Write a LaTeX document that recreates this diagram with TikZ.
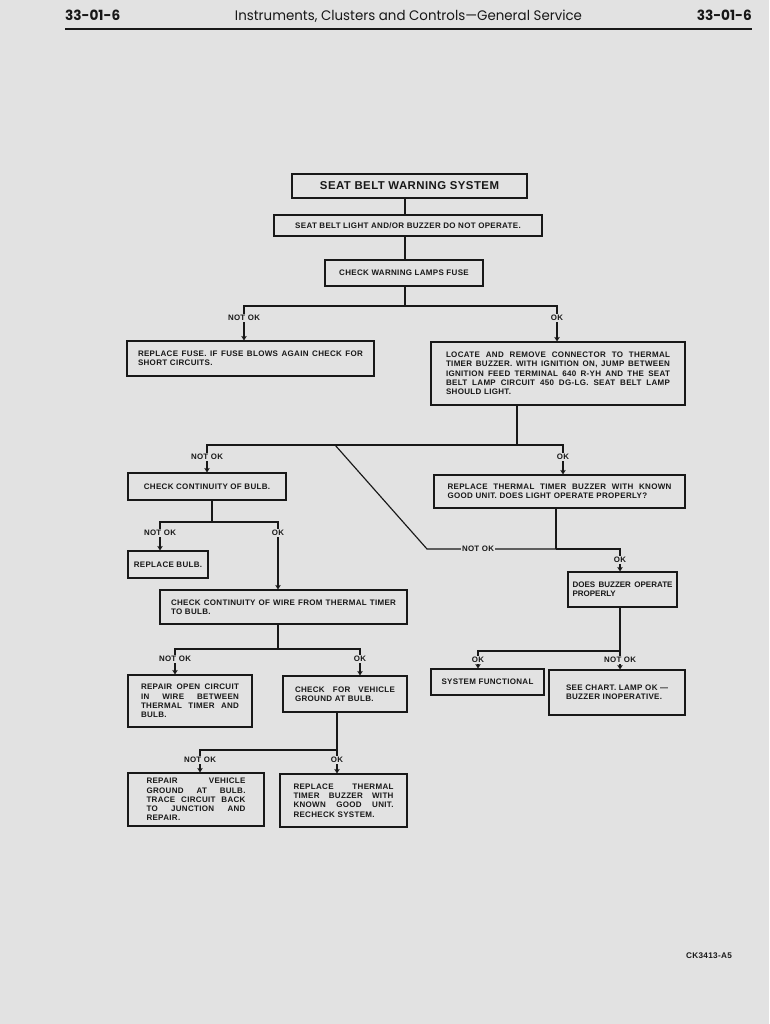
\documentclass[tikz,border=0pt]{standalone}
\usepackage{fontspec}
\setmainfont{Liberation Sans}
\newfontfamily\boxfont{Liberation Sans}[LetterSpace=4]
\newfontfamily\hdrfont{Poppins}
\usetikzlibrary{arrows.meta}
\definecolor{bg}{RGB}{226,226,226}
\definecolor{ink}{RGB}{24,24,24}
\newcommand{\jl}[1]{\makebox[\hsize][s]{\spaceskip=0.3em plus 1fil minus 0.1em\relax #1}}
\begin{document}
\begin{tikzpicture}[x=1pt,y=-1pt,
  box/.style={draw=ink, line width=1.15pt, rectangle, inner ysep=0pt, text=ink,
    font=\boxfont\bfseries\fontsize{8}{9.3}\selectfont, align=left},
  cbox/.style={box, align=center, inner xsep=0pt},
  conn/.style={draw=ink, line width=1.15pt},
  arr/.style={conn, -{Straight Barb[length=3.5pt,width=4.5pt,line width=0.9pt]}},
  lab/.style={fill=bg, inner sep=1pt, text=ink, font=\boxfont\bfseries\fontsize{7.9}{8}\selectfont}]
\fill[bg] (0,0) rectangle (769,1024);
\useasboundingbox (0,0) rectangle (769,1024);
% header
\node[anchor=west, inner sep=0, text=ink] (h1) at (65,15) {\resizebox{55pt}{10.5pt}{\hdrfont\bfseries 33-01-6}};
\node[anchor=east, inner sep=0, text=ink] (h3) at (752,15) {\resizebox{55pt}{10.5pt}{\hdrfont\bfseries 33-01-6}};
\node[inner sep=0, text=ink] (h2) at (408.5,16) {\resizebox{347pt}{10.5pt}{\hdrfont\fontseries{m}\selectfont Instruments, Clusters and Controls—General Service}};
\draw[ink, line width=1.8pt] (65,29) -- (752,29);
% boxes
\node[cbox, minimum width=235pt, minimum height=24pt, font=\boxfont\bfseries\fontsize{11.4}{13}\selectfont] (b1) at (409.5,186) {SEAT BELT WARNING SYSTEM};
\node[cbox, minimum width=268pt, minimum height=21pt] (b2) at (408,225.5) {SEAT BELT LIGHT AND/OR BUZZER DO NOT OPERATE.};
\node[cbox, minimum width=158pt, minimum height=26pt] (b3) at (404,273) {CHECK WARNING LAMPS FUSE};
\node[box, minimum height=35pt, text width=225pt, inner xsep=11pt] (b4) at (250.5,358.5)
  {\jl{REPLACE FUSE. IF FUSE BLOWS AGAIN CHECK FOR}\\SHORT CIRCUITS.};
\node[box, minimum height=63pt, text width=224pt, inner xsep=15pt] (b5) at (558,373.5)
  {\jl{LOCATE AND REMOVE CONNECTOR TO THERMAL}\\\jl{TIMER BUZZER. WITH IGNITION ON, JUMP BETWEEN}\\\jl{IGNITION FEED TERMINAL 640 R-YH AND THE SEAT}\\\jl{BELT LAMP CIRCUIT 450 DG-LG. SEAT BELT LAMP}\\SHOULD LIGHT.};
\node[cbox, minimum width=158pt, minimum height=27pt] (b6) at (207,486.5) {CHECK CONTINUITY OF BULB.};
\node[box, minimum height=33pt, text width=224pt, inner xsep=13.5pt] (b7) at (559.5,491.5)
  {\jl{REPLACE THERMAL TIMER BUZZER WITH KNOWN}\\GOOD UNIT. DOES LIGHT OPERATE PROPERLY?};
\node[cbox, minimum width=80pt, minimum height=27pt] (b8) at (168,564.5) {REPLACE BULB.};
\node[box, minimum height=34pt, text width=225pt, inner xsep=11pt] (b9) at (283.5,607)
  {\jl{CHECK CONTINUITY OF WIRE FROM THERMAL TIMER}\\TO BULB.};
\node[box, minimum height=35pt, text width=100pt, inner xsep=4.5pt, font=\bfseries\fontsize{8}{9.3}\selectfont] (b10) at (622.5,589.5)
  {\jl{DOES BUZZER OPERATE}\\PROPERLY};
\node[cbox, minimum width=113pt, minimum height=26pt] (b11) at (487.5,682) {SYSTEM FUNCTIONAL};
\node[box, minimum height=45pt, text width=102pt, inner xsep=17pt] (b12) at (617,692.5)
  {\mbox{SEE CHART. LAMP OK —}\\\mbox{BUZZER INOPERATIVE.}};
\node[box, minimum height=52pt, text width=98pt, inner xsep=13pt] (b13) at (190,701)
  {\jl{REPAIR OPEN CIRCUIT}\\\jl{IN WIRE BETWEEN}\\\jl{THERMAL TIMER AND}\\BULB.};
\node[box, minimum height=36pt, text width=100pt, inner xsep=12pt] (b14) at (345,694)
  {\jl{CHECK FOR VEHICLE}\\GROUND AT BULB.};
\node[box, minimum height=53pt, text width=99pt, inner xsep=18.5pt] (b15) at (196,799.5)
  {\jl{REPAIR VEHICLE}\\\jl{GROUND AT BULB.}\\\jl{TRACE CIRCUIT BACK}\\\jl{TO JUNCTION AND}\\REPAIR.};
\node[box, minimum height=53pt, text width=100pt, inner xsep=13.5pt] (b16) at (343.5,800.5)
  {\jl{REPLACE THERMAL}\\\jl{TIMER BUZZER WITH}\\\jl{KNOWN GOOD UNIT.}\\RECHECK SYSTEM.};
% column coordinates
\coordinate (t) at (405,0);
\coordinate (x244) at (244,0);
\coordinate (x557) at (557,0);
\coordinate (x207) at (207,0);
\coordinate (x563) at (563,0);
\coordinate (x620) at (620,0);
\coordinate (x160) at (160,0);
\coordinate (x278) at (278,0);
\coordinate (x175) at (175,0);
\coordinate (x360) at (360,0);
\coordinate (x478) at (478,0);
\coordinate (x200) at (200,0);
% connectors
\draw[conn] (b1.south -| t) -- (b2.north -| t);
\draw[conn] (b2.south -| t) -- (b3.north -| t);
\coordinate (j1) at (405,306);
\draw[conn] (b3.south -| t) -- (j1);
\draw[arr] (j1) -| (b4.north -| x244);
\draw[arr] (j1) -| (b5.north -| x557);
\coordinate (j2) at (517,445);
\draw[conn] (b5.south -| j2) -- (j2);
\draw[arr] (j2) -| (b6.north -| x207);
\draw[arr] (j2) -| (b7.north -| x563);
\coordinate (d1) at (335,445);
\coordinate (d2) at (427,549);
\coordinate (j3) at (556,549);
\draw[conn] (d1) -- (d2) -- (j3);
\draw[conn] (b7.south -| j3) -- (j3);
\draw[arr] (j3) -| (b10.north -| x620);
\coordinate (j4) at (212,522);
\draw[conn] (b6.south -| j4) -- (j4);
\draw[arr] (j4) -| (b8.north -| x160);
\draw[arr] (j4) -| (b9.north -| x278);
\coordinate (j5) at (278,649);
\draw[conn] (b9.south -| j5) -- (j5);
\draw[arr] (j5) -| (b13.north -| x175);
\draw[arr] (j5) -| (b14.north -| x360);
\coordinate (j6) at (620,651);
\draw[conn] (b10.south -| j6) -- (j6);
\draw[arr] (j6) -| (b11.north -| x478);
\draw[arr] (j6) -- (b12.north -| j6);
\coordinate (j7) at (337,750);
\draw[conn] (b14.south -| j7) -- (j7);
\draw[arr] (j7) -| (b15.north -| x200);
\draw[arr] (j7) -- (b16.north -| j7);
% labels
\node[lab] (l1) at (244,318) {NOT OK};
\node[lab] (l2) at (557,318) {OK};
\node[lab] (l3) at (207,457) {NOT OK};
\node[lab] (l4) at (563,457) {OK};
\node[lab] (l5) at (478,549) {NOT OK};
\node[lab] (l6) at (620,560) {OK};
\node[lab] (l7) at (160,533) {NOT OK};
\node[lab] (l8) at (278,533) {OK};
\node[lab] (l9) at (175,659) {NOT OK};
\node[lab] (l10) at (360,659) {OK};
\node[lab] (l11) at (478,660) {OK};
\node[lab] (l12) at (620,660) {NOT OK};
\node[lab] (l13) at (200,760) {NOT OK};
\node[lab] (l14) at (337,760) {OK};
\node[text=ink, inner sep=0, font=\boxfont\bfseries\fontsize{8.2}{9}\selectfont] (ck) at (709,956) {CK3413-A5};
\end{tikzpicture}
\end{document}
